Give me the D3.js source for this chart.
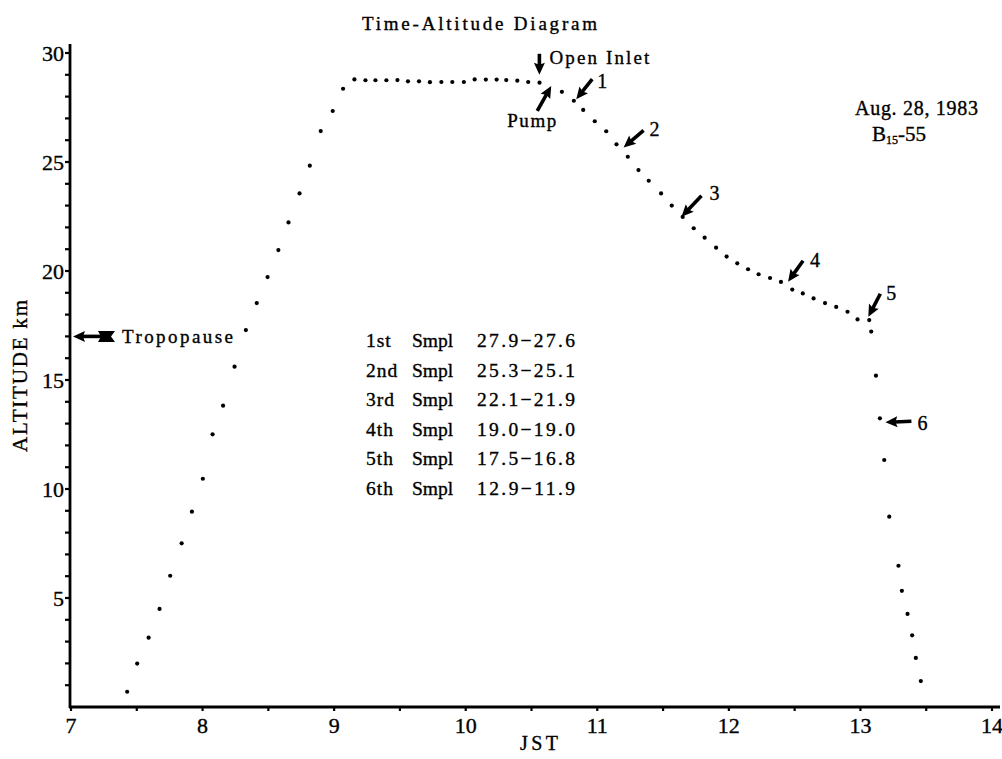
<!DOCTYPE html>
<meta charset="utf-8">
<style>
  body { margin: 0; background: #fff; }
  text { font-family: "Liberation Serif", "Times New Roman", serif; fill: #000; stroke: #000; stroke-width: 0.35px; }
</style>
<svg width="1002" height="759"></svg>
<script src="https://cdn.jsdelivr.net/npm/d3@7"></script>
<script>

// flight track (JST hours, km)
var times = [7.427, 7.503, 7.590, 7.673, 7.754, 7.841, 7.919, 8.002, 8.076, 8.156, 8.243,
  8.329, 8.412, 8.494, 8.576, 8.653, 8.737, 8.815, 8.898, 8.989, 9.068, 9.154,
  9.238, 9.314, 9.397, 9.481, 9.561, 9.645, 9.728, 9.815, 9.898, 9.986, 10.068,
  10.153, 10.235, 10.308, 10.392, 10.475, 10.561,
  10.731, 10.822, 10.893, 10.981, 11.068, 11.146, 11.232, 11.313, 11.391, 11.485,
  11.566, 11.649, 11.733, 11.816, 11.903, 11.983, 12.064, 12.146, 12.226, 12.313,
  12.396, 12.482, 12.562, 12.644, 12.731, 12.816, 12.902, 12.978, 13.067, 13.082,
  13.118, 13.148, 13.181, 13.219, 13.289, 13.315, 13.358, 13.393, 13.421, 13.459];
var altitudes = [0.70, 1.99, 3.18, 4.50, 6.02, 7.51, 8.96, 10.47, 12.51, 13.82, 15.61,
  17.29, 18.53, 19.72, 20.96, 22.23, 23.56, 24.83, 26.42, 27.34, 28.36, 28.79,
  28.75, 28.75, 28.75, 28.76, 28.70, 28.70, 28.66, 28.67, 28.67, 28.67, 28.79,
  28.78, 28.78, 28.76, 28.73, 28.67, 28.64,
  28.22, 27.81, 27.39, 26.87, 26.41, 25.81, 25.24, 24.63, 24.14, 23.56,
  23.00, 22.48, 21.96, 21.53, 21.07, 20.66, 20.35, 20.08, 19.85, 19.68,
  19.50, 19.15, 18.97, 18.74, 18.53, 18.35, 18.13, 17.78, 17.75, 17.22,
  15.20, 13.24, 11.33, 8.73, 6.48, 5.33, 4.27, 3.29, 2.25, 1.19];

// arrow notes: where each arrow points (JST, km)
var noteLabels = ["Open Inlet", "Pump", "1", "2", "3", "4", "5", "6"];
var noteTimes = [10.56, 10.65, 10.84, 11.20, 11.64, 12.45, 13.06, 13.19];
var noteAlts = [29.0, 28.49, 27.88, 25.67, 22.49, 19.51, 17.90, 13.06];

var tropopause = 17.0;

// sampling table
var sampleNames = ["1st", "2nd", "3rd", "4th", "5th", "6th"];
var sampleFrom = [27.9, 25.3, 22.1, 19.0, 17.5, 12.9];
var sampleTo = [27.6, 25.1, 21.9, 19.0, 16.8, 11.9];

var xTicks = [7, 8, 9, 10, 11, 12, 13, 14];
var yTicks = [5, 10, 15, 20, 25, 30];

var svg = d3.select("svg");

var x = d3.scaleLinear().domain([7, 14]).range([71, 992]),
    y = d3.scaleLinear().domain([0, 30]).range([707, 53]);

// axes
var yAxis = svg.append("g").attr("transform", "translate(70,0)");
yAxis.append("line").attr("x1", 0).attr("x2", 0).attr("y1", 44).attr("y2", y(0) + 1)
    .attr("stroke", "#000").attr("stroke-width", 2.8);
yAxis.selectAll(".minor").data(d3.range(1, 31)).enter().append("line")
    .attr("x1", -5).attr("x2", 0)
    .attr("y1", function(d) { return y(d); }).attr("y2", function(d) { return y(d); })
    .attr("stroke", "#000").attr("stroke-width", 2.2);
yAxis.selectAll(".lab").data(yTicks).enter().append("text")
    .attr("x", -6).attr("y", function(d) { return y(d) + 7.5; })
    .attr("text-anchor", "end").style("font-size", "22px")
    .text(function(d) { return d; });

var xAxis = svg.append("g").attr("transform", "translate(0," + y(0) + ")");
xAxis.append("line").attr("x1", 69).attr("x2", 1000).attr("y1", 0).attr("y2", 0)
    .attr("stroke", "#000").attr("stroke-width", 2.8);
xAxis.selectAll(".minor").data(d3.range(7, 14.01, 0.5)).enter().append("line")
    .attr("x1", function(d) { return x(d); }).attr("x2", function(d) { return x(d); })
    .attr("y1", 0).attr("y2", 4)
    .attr("stroke", "#000").attr("stroke-width", 2.2);
xAxis.selectAll(".lab").data(xTicks).enter().append("text")
    .attr("x", function(d) { return x(d); }).attr("y", 26)
    .attr("text-anchor", "middle").style("font-size", "22px")
    .text(function(d) { return d; });

// axis titles
svg.append("text").attr("x", 362).attr("y", 30)
    .attr("textLength", 235).attr("lengthAdjust", "spacing")
    .style("font-size", "19px").text("Time-Altitude Diagram");
svg.append("text").attr("x", 520).attr("y", 750)
    .attr("textLength", 38).attr("lengthAdjust", "spacing")
    .style("font-size", "20px").text("JST");
svg.append("text").attr("transform", "translate(27,452) rotate(-90)")
    .attr("textLength", 152).attr("lengthAdjust", "spacing")
    .style("font-size", "21px").text("ALTITUDE  km");

// flight points
svg.selectAll(".pt").data(times).enter().append("circle")
    .attr("cx", function(d) { return x(d); })
    .attr("cy", function(d, i) { return y(altitudes[i]); })
    .attr("r", 2.1).attr("fill", "#000");

function arrow(g, x1, y1, x2, y2) {
  var dx = x2 - x1, dy = y2 - y1, len = Math.sqrt(dx * dx + dy * dy),
      ux = dx / len, uy = dy / len, hl = 12, hw = 5.5,
      bx = x2 - ux * hl, by = y2 - uy * hl;
  g.append("line").attr("x1", x1).attr("y1", y1)
      .attr("x2", bx + ux * 3).attr("y2", by + uy * 3)
      .attr("stroke", "#000").attr("stroke-width", 3.6);
  g.append("path")
      .attr("d", "M" + x2 + "," + y2 + "L" + (bx - uy * hw) + "," + (by + ux * hw) +
        "L" + (bx + ux * 2) + "," + (by + uy * 2) +
        "L" + (bx + uy * hw) + "," + (by - ux * hw) + "Z")
      .attr("fill", "#000");
}

// tail offset and label offset, in px from the arrow tip
var noteTail = [[0, -21], [-14, 25], [16, -20], [20, -17], [20, -21], [15, -21], [12, -23], [26, -1]];
var noteText = [[10, -11], [-44, 41], [21, -11], [26, -11], [28, -17], [22, -15], [18, -17], [32, 8]];
var noteLen = [100, 49, 0, 0, 0, 0, 0, 0];
var notes = svg.append("g");
noteLabels.forEach(function(lab, i) {
  var tx = x(noteTimes[i]), ty = y(noteAlts[i]);
  arrow(notes, tx + noteTail[i][0], ty + noteTail[i][1], tx, ty);
  var t = notes.append("text").attr("x", tx + noteText[i][0]).attr("y", ty + noteText[i][1])
      .style("font-size", i < 2 ? "19px" : "20px").text(lab);
  if (noteLen[i]) t.attr("textLength", noteLen[i]).attr("lengthAdjust", "spacing");
});

// tropopause marker
var ty0 = y(tropopause), tx0 = x(7) + 2;
arrow(notes, tx0 + 30, ty0, tx0, ty0);
notes.append("path")
    .attr("d", "M" + (tx0 + 25) + "," + (ty0 - 5.5) + "L" + (tx0 + 42) + "," + (ty0 - 5.5) +
      "L" + (tx0 + 38) + "," + ty0 + "L" + (tx0 + 42) + "," + (ty0 + 5.5) +
      "L" + (tx0 + 25) + "," + (ty0 + 5.5) + "L" + (tx0 + 28) + "," + ty0 + "Z")
    .attr("fill", "#000");
notes.append("text").attr("x", 122).attr("y", ty0 + 7)
    .attr("textLength", 111).attr("lengthAdjust", "spacing")
    .style("font-size", "19px").text("Tropopause");

// flight id
svg.append("text").attr("x", 855).attr("y", 115)
    .attr("textLength", 123).attr("lengthAdjust", "spacing")
    .style("font-size", "20px").text("Aug. 28, 1983");
var bid = svg.append("text").attr("x", 872).attr("y", 141).style("font-size", "21px");
bid.append("tspan").text("B");
bid.append("tspan").attr("dy", 3).style("font-size", "12px").text("15");
bid.append("tspan").attr("dy", -3).text("-55");

// sample table
var rows = svg.append("g").selectAll("g").data(sampleNames).enter().append("g")
    .attr("transform", function(d, i) { return "translate(0," + (347 + i * 29.5) + ")"; })
    .style("font-size", "19.5px");
rows.append("text").attr("x", 366).style("letter-spacing", "1px").text(function(d) { return d; });
rows.append("text").attr("x", 412).text("Smpl");
rows.append("text").attr("x", 477)
    .attr("textLength", 98).attr("lengthAdjust", "spacing")
    .text(function(d, i) { return sampleFrom[i].toFixed(1) + "\u2212" + sampleTo[i].toFixed(1); });

</script>
